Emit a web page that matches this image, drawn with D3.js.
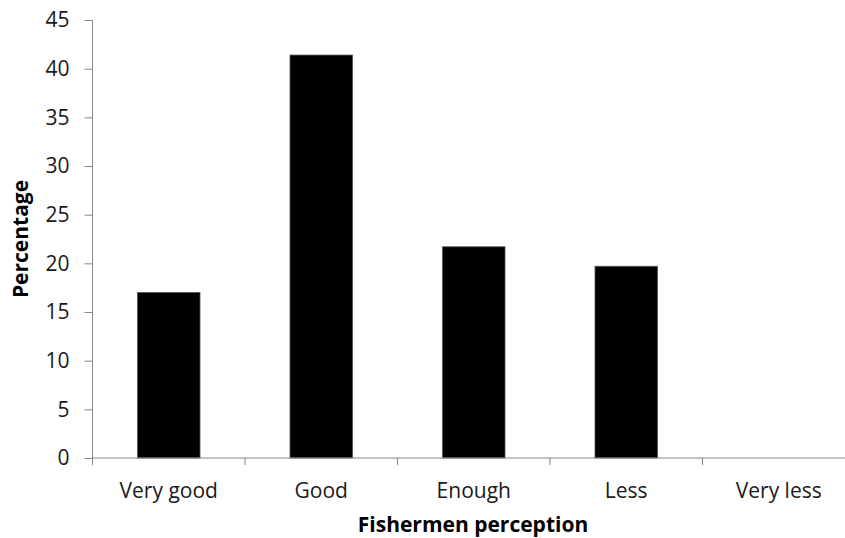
<!DOCTYPE html>
<html><head><meta charset="utf-8">
<script src="https://cdn.jsdelivr.net/npm/d3@7"></script>
<style>body{margin:0;background:#fff}svg{display:block}</style>
</head><body>
<svg id="c" width="845" height="538"></svg>
<script>
const categories = ["Very good", "Good", "Enough", "Less", "Very less"];
const values = [17.0, 41.4, 21.7, 19.7, 0];
const yTicks = [0, 5, 10, 15, 20, 25, 30, 35, 40, 45];
const xTitle = "Fishermen perception";
const yTitle = "Percentage";

const svg = d3.select("#c");
const left = 92.5;
const x = d3.scaleBand().domain(categories).range([left, 855]).paddingInner(0.59).paddingOuter(0.295);
const y = d3.scaleLinear().domain([0, 45]).range([458, 20]);
const font = "'Open Sans', 'Liberation Sans', sans-serif";
const axisCol = "#868686";
const fs = 21;

// bars
svg.append("g").selectAll("rect").data(values).join("rect")
  .attr("x", (d, i) => x(categories[i]))
  .attr("width", x.bandwidth())
  .attr("y", d => y(d))
  .attr("height", d => y(0) - y(d))
  .attr("fill", "#000")
  .attr("stroke", d => d > 0 ? "#555" : "none")
  .attr("stroke-width", 0.8);

// y axis
const ya = svg.append("g").attr("transform", `translate(${left},0)`)
  .call(d3.axisLeft(y).tickValues(yTicks).tickSize(8).tickPadding(15));
ya.select(".domain").attr("stroke", axisCol).attr("d", `M-0,${y(45)}V${y(0)}`);
ya.selectAll(".tick line").attr("stroke", axisCol);
ya.selectAll(".tick text").attr("font-family", font).attr("font-size", fs).attr("fill", "#1a1a1a");

// x axis
const step = x.step();
const xa = svg.append("g").attr("transform", `translate(0,${y(0)})`);
xa.append("line").attr("x1", left).attr("x2", 845).attr("y1", 0).attr("y2", 0).attr("stroke", axisCol);
xa.selectAll("line.t").data(d3.range(categories.length + 1)).join("line").attr("class", "t")
  .attr("x1", i => left + i * step).attr("x2", i => left + i * step)
  .attr("y1", 0).attr("y2", 7).attr("stroke", axisCol);
xa.selectAll("text").data(categories).join("text")
  .attr("x", d => x(d) + x.bandwidth() / 2)
  .attr("y", 40)
  .attr("text-anchor", "middle")
  .attr("font-family", font).attr("font-size", fs).attr("fill", "#1a1a1a")
  .text(d => d);

// titles
svg.append("text").attr("x", 473).attr("y", 532).attr("text-anchor", "middle")
  .attr("font-family", font).attr("font-size", 21).attr("font-weight", "bold").text(xTitle);
svg.append("text").attr("transform", `translate(28,${(y(0) + y(45)) / 2}) rotate(-90)`)
  .attr("text-anchor", "middle")
  .attr("font-family", font).attr("font-size", 21).attr("font-weight", "bold").text(yTitle);
</script>
</body></html>
